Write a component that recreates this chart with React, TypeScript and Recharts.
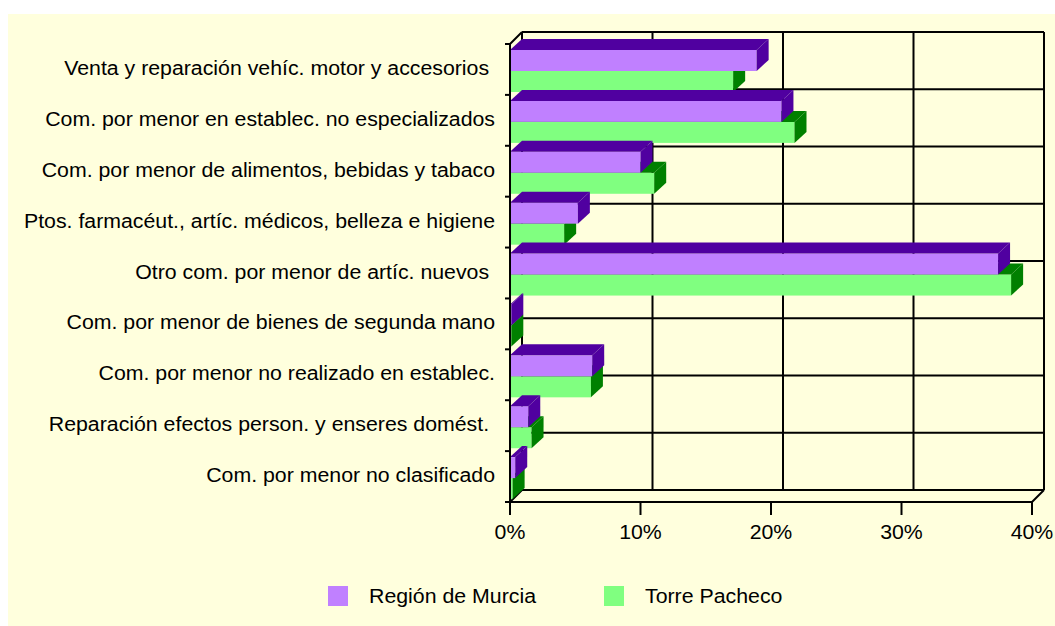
import React from 'react';
import { BarChart, Bar, XAxis, YAxis, CartesianGrid } from 'recharts';

// categories, top to bottom as in the source chart
const categories = [
  'Venta y reparación vehíc. motor y accesorios ',
  'Com. por menor en establec. no especializados',
  'Com. por menor de alimentos, bebidas y tabaco',
  'Ptos. farmacéut., artíc. médicos, belleza e higiene',
  'Otro com. por menor de artíc. nuevos ',
  'Com. por menor de bienes de segunda mano',
  'Com. por menor no realizado en establec.',
  'Reparación efectos person. y enseres domést. ',
  'Com. por menor no clasificado',
];

// percentages
const regionMurcia = [18.9, 20.8, 10.0, 5.2, 37.4, 0.1, 6.3, 1.4, 0.4];
const torrePacheco = [17.1, 21.8, 11.05, 4.15, 38.4, 0.1, 6.2, 1.65, 0.2];

const xTicks = [0, 10, 20, 30, 40];
const seriesNames = ['Región de Murcia', 'Torre Pacheco'];

const data = categories.map((name, i) => ({
  name,
  murcia: regionMurcia[i],
  torre: torrePacheco[i],
}));
// row boundaries for the back-wall grid
const rowEdges = categories.map((_, i) => i).concat(categories.length);

const W = 1047;
const H = 612;
const PLOT_H = 458;
const BAND = PLOT_H / categories.length;
const DX = 12;
const DY = 12;
const BAR_DY = 11;
const BAR_SHIFT = 2;
const BAR_SIZE = 21;

const BG = '#FFFFDD';
const PURPLE = '#C080FF';
const PURPLE_DARK = '#5000A0';
const GREEN = '#80FF80';
const GREEN_DARK = '#008000';

const FONT = '"Liberation Sans", Arial, Helvetica, sans-serif';
const FS = 19.5;
const STRETCH = 1.093;

const Box3D = (p: any) => {
  const { x, width, height, face, side } = p;
  if (x == null || isNaN(width)) return null;
  const y = p.y + BAR_SHIFT;
  const w = Math.max(width, 0);
  const top = `${x},${y} ${x + DX},${y - BAR_DY} ${x + w + DX},${y - BAR_DY} ${x + w},${y}`;
  const right = `${x + w},${y} ${x + w + DX},${y - BAR_DY} ${x + w + DX},${y + height - BAR_DY} ${x + w},${y + height}`;
  return (
    <g>
      <rect x={x} y={y} width={w} height={height} fill={face} />
      <polygon points={top} fill={side} />
      <polygon points={right} fill={side} />
    </g>
  );
};

const hLine = (p: any) => {
  // keep only the lines that fall inside the plot
  if (p.y1 < p.y - 1 || p.y1 > p.y + PLOT_H + 1) return <g key={`h-${p.index}`} />;
  return (
    <line
      key={`h-${p.index}`}
      x1={p.x1 + DX}
      y1={p.y1 - DY}
      x2={p.x2 + DX}
      y2={p.y2 - DY}
      stroke="#000"
      strokeWidth={2}
    />
  );
};

const vLine = (p: any) => {
  const left = Math.abs(p.x1 - p.x) < 1;
  const right = Math.abs(p.x1 - (p.x + p.width)) < 1;
  return (
    <g key={`v-${p.index}`}>
      <line x1={p.x1 + DX} y1={p.y1 - DY} x2={p.x2 + DX} y2={p.y2 - DY} stroke="#000" strokeWidth={2} />
      {left && <line x1={p.x1} y1={p.y1} x2={p.x1 + DX} y2={p.y1 - DY} stroke="#000" strokeWidth={2} />}
      {(left || right) && (
        <line x1={p.x1} y1={p.y2} x2={p.x1 + DX} y2={p.y2 - DY} stroke="#000" strokeWidth={2} />
      )}
    </g>
  );
};

const CategoryTick = (p: any) => {
  const { x, y, payload, index } = p;
  const last = index === categories.length - 1;
  return (
    <g>
      <line x1={x + 10} x2={x + 15} y1={y - BAND / 2} y2={y - BAND / 2} stroke="#000" strokeWidth={2} />
      {last && <line x1={x + 10} x2={x + 15} y1={y + BAND / 2} y2={y + BAND / 2} stroke="#000" strokeWidth={2} />}
      <text
        transform={`translate(${x},${y}) scale(${STRETCH},1)`}
        y={5.5}
        textAnchor="end"
        fontSize={FS}
        fontFamily={FONT}
        fill="#000"
        style={{ whiteSpace: 'pre' }}
      >
        {payload.value}
      </text>
    </g>
  );
};

const PercentTick = (p: any) => (
  <text
    transform={`translate(${p.x},${p.y}) scale(${STRETCH},1)`}
    y={22}
    textAnchor="middle"
    fontSize={FS}
    fontFamily={FONT}
    fill="#000"
  >
    {p.payload.value}%
  </text>
);

export default function App() {
  const legendColors = [PURPLE, GREEN];
  return (
    <div style={{ position: 'absolute', left: 8, top: 14, width: W, height: H, background: BG }}>
      <BarChart
        width={W}
        height={H}
        data={data}
        layout="vertical"
        margin={{ top: 30, right: 23, bottom: 84, left: 0 }}
        barSize={BAR_SIZE}
        barGap={-2 * BAR_SIZE}
      >
        <CartesianGrid yAxisId="grid" stroke="#000" strokeWidth={2} horizontal={hLine} vertical={vLine} />
        <XAxis
          type="number"
          domain={[0, 40]}
          ticks={xTicks}
          interval={0}
          height={40}
          tickSize={13}
          axisLine={{ stroke: '#000', strokeWidth: 2 }}
          tickLine={{ stroke: '#000', strokeWidth: 2 }}
          tick={<PercentTick />}
        />
        <YAxis
          type="category"
          dataKey="name"
          width={502}
          interval={0}
          tickSize={5}
          tickMargin={10}
          axisLine={{ stroke: '#000', strokeWidth: 2 }}
          tickLine={false}
          tick={<CategoryTick />}
        />
        <YAxis
          yAxisId="grid"
          type="number"
          domain={[0, categories.length]}
          ticks={rowEdges}
          allowDataOverflow
          hide
        />
        <Bar
          dataKey="torre"
          name={seriesNames[1]}
          isAnimationActive={false}
          shape={(p: any) => <Box3D {...p} face={GREEN} side={GREEN_DARK} />}
        />
        <Bar
          dataKey="murcia"
          name={seriesNames[0]}
          isAnimationActive={false}
          shape={(p: any) => <Box3D {...p} face={PURPLE} side={PURPLE_DARK} />}
        />
      </BarChart>
      <div style={{ position: 'absolute', left: 320, top: 572, display: 'flex', fontFamily: FONT }}>
        {seriesNames.map((n, i) => (
          <div key={n} style={{ display: 'flex', alignItems: 'flex-start', width: i === 0 ? 276 : 220 }}>
            <div style={{ width: 20, height: 20, background: legendColors[i] }} />
            <span
              style={{
                marginLeft: 21,
                fontSize: FS,
                lineHeight: '20px',
                display: 'inline-block',
                transform: `scaleX(${STRETCH})`,
                transformOrigin: 'left',
                whiteSpace: 'nowrap',
              }}
            >
              {n}
            </span>
          </div>
        ))}
      </div>
    </div>
  );
}
